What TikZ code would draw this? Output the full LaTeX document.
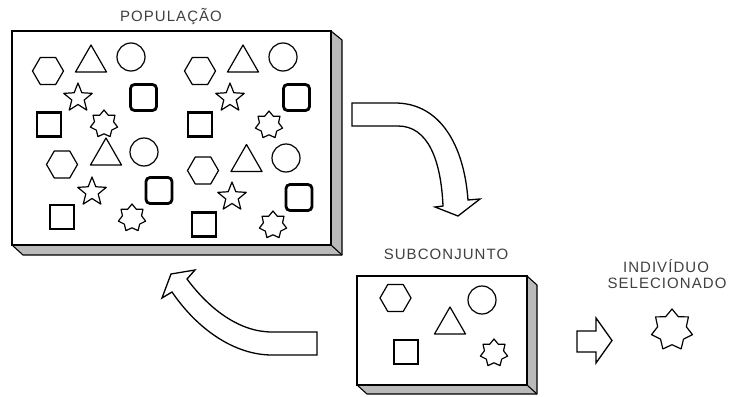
\documentclass[tikz,border=0pt]{standalone}
\usepackage{fontspec}
\setmainfont{Liberation Sans}
\newfontfamily\lblfont[LetterSpace=7]{Liberation Sans}
\begin{document}
\begin{tikzpicture}[x=1pt,y=-1pt,
  thinline/.style={line width=1.2pt, line join=round},
  lbl/.style={font=\lblfont\fontsize{15}{17}\selectfont, text=black!75, inner sep=0pt},
  sidefill/.style={fill=black!27, draw=black, line width=1.1pt, line join=round},
  frontface/.style={fill=white, draw=black, line width=2.5pt},
  blockarrow/.style={fill=white, draw=black, line width=1.3pt, line join=miter},
  hexa/.pic={\draw[thinline] (0:15.5pt) -- (60:15.5pt) -- (120:15.5pt) -- (180:15.5pt) -- (240:15.5pt) -- (300:15.5pt) -- cycle;},
  tri/.pic={\draw[thinline] (-15.5pt,-13.5pt) -- (15.5pt,-13.5pt) -- (0pt,13.5pt) -- cycle;},
  circ/.pic={\draw[thinline] (0,0) circle[radius=14pt];},
  starfive/.pic={\draw[thinline] (90:15pt) \foreach \i [evaluate=\i as \r using {mod(\i,2)*(-8.5)+15}] in {1,...,9} { -- ({90+36*\i}:\r pt)} -- cycle;},
  sun/.pic={\draw[thinline] (90:14pt) \foreach \i [evaluate=\i as \r using {mod(\i,2)*(-4.2)+14}] in {1,...,13} { -- ({90+360/14*\i}:\r pt)} -- cycle;},
  rsq/.pic={\draw[line width=2.8pt, rounded corners=4pt] (-13pt,-13pt) rectangle (13pt,13pt);},
  sq/.pic={\draw[line width=2.3pt] (-12pt,-12pt) rectangle (12pt,12pt);}
]
\useasboundingbox (0,0) rectangle (730,396);

% big box (population)
\draw[sidefill] (331,31) -- (342,40) -- (342,255) -- (23,255) -- (12,245) -- (331,245) -- cycle;
\draw[black, line width=1.1pt] (331,245) -- (342,255);
\draw[frontface] (12,31) rectangle (331,245);
\node[lbl] (pop) at (171,17) {POPULAÇÃO};

% group 1
\pic at (48,71) {hexa};
\pic at (91,58.5) {tri};
\pic at (131,57) {circ};
\pic at (78,98) {starfive};
\pic at (143.5,97.5) {rsq};
\pic at (49,124.5) {sq};
\pic at (104,124) {sun};
% group 2
\pic at (200,71) {hexa};
\pic at (243,58.5) {tri};
\pic at (283,57) {circ};
\pic at (230,98) {starfive};
\pic at (296.5,97.5) {rsq};
\pic at (200,124.5) {sq};
\pic at (269,125) {sun};
% group 3
\pic at (62,164.5) {hexa};
\pic at (106,151.5) {tri};
\pic at (144,152) {circ};
\pic at (92,192) {starfive};
\pic at (159,190.5) {rsq};
\pic at (62,217) {sq};
\pic at (132,218) {sun};
% group 4
\pic at (203,170.5) {hexa};
\pic at (246.5,158) {tri};
\pic at (286,158) {circ};
\pic at (232,197) {starfive};
\pic at (299,197.5) {rsq};
\pic at (204,224.5) {sq};
\pic at (273,225) {sun};

% small box (subset)
\draw[sidefill] (527,276) -- (537,285) -- (537,394) -- (367,394) -- (357,385) -- (527,385) -- cycle;
\draw[black, line width=1.1pt] (527,385) -- (537,394);
\draw[frontface] (357,276) rectangle (527,385);
\node[lbl] (sub) at (446,254) {SUBCONJUNTO};
\pic at (395.5,298) {hexa};
\pic at (482,300) {circ};
\pic at (450,320.5) {tri};
\pic at (406,352) {sq};
\pic at (494,353) {sun};

% curved arrow down
\draw[blockarrow] (352,103) -- (395,103) .. controls (440,103) and (464,145) .. (468,200)
  -- (480,199) -- (458,216) -- (435,207) -- (443,206)
  .. controls (441,160) and (428,126) .. (398,126) -- (352,126) -- cycle;

% curved arrow back up-left
\draw[blockarrow] (317,332) -- (272,332) .. controls (240,332) and (210,310) .. (187,279)
  -- (195,270) -- (171,274) -- (162,298) -- (172,292)
  .. controls (198,330) and (235,355) .. (272,355) -- (317,355) -- cycle;

% right block arrow
\draw[blockarrow] (577,331) -- (596,331) -- (596,318) -- (612,340.5) -- (596,363) -- (596,352) -- (577,352) -- cycle;

% selected individual
\node[lbl] (ind1) at (666,266) {INDIVÍDUO};
\node[lbl] (ind2) at (667,283) {SELECIONADO};
\pic[scale=1.5] at (672,330) {sun};
\end{tikzpicture}
\end{document}
